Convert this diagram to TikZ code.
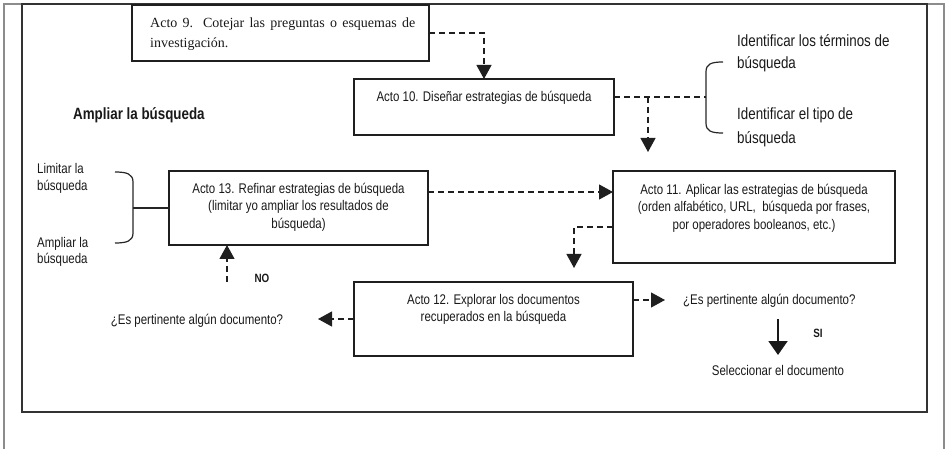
\documentclass[tikz,border=0pt]{standalone}
\usepackage{fontspec}
\setmainfont{Liberation Sans}[FakeStretch=0.82]
\newfontfamily\timesfont{Liberation Serif}
\usetikzlibrary{arrows.meta}
\newcommand\tstrut{\rule{0pt}{14pt}}
\newcommand\bstrut{\rule{0pt}{16pt}}
\begin{document}
\begin{tikzpicture}[x=1pt,y=-1pt,
  boxthick/.style={draw=black!88, line width=2.6pt, inner sep=0pt, outer sep=0pt},
  boxthin/.style={draw=black!88, line width=1.6pt, inner sep=0pt, outer sep=0pt},
  txt/.style={font=\fontsize{14}{17.5}\selectfont, inner sep=0pt, align=center, text=black!90},
  link/.style={draw=black!88, line width=1.2pt, dash pattern=on 6pt off 4pt, -{Triangle[length=14pt,width=15pt]}},
  dline/.style={draw=black!88, line width=1.2pt, dash pattern=on 6pt off 4pt},
  plainline/.style={draw=black!85, line width=1.2pt},
  siarrow/.style={draw=black!90, line width=2pt, -{Triangle[length=14pt,width=19pt]}},
  lbl/.style={font=\bfseries\fontsize{12}{14}\selectfont, inner sep=0pt, text=black!90, anchor=base}]
\useasboundingbox (0,0) rectangle (948,449);

% frames
\draw[line width=1.5pt, black!45] (4,449) -- (4,4) -- (944,4) -- (944,449);
\draw[line width=1.3pt, black!80] (22,4) rectangle (927,412);

% boxes
\node[boxthick, minimum width=297pt, minimum height=56pt] (a9) at (280.5,33) {};
\node[boxthick, minimum width=260pt, minimum height=56pt] (a10) at (484,107) {};
\node[boxthin, minimum width=282pt, minimum height=92pt] (a11) at (754,217) {};
\node[boxthick, minimum width=279pt, minimum height=74pt] (a12) at (493.5,319) {};
\node[boxthick, minimum width=259pt, minimum height=74pt] (a13) at (298.5,208) {};

% box texts
\node[anchor=north west, text width=265pt, align=justify, inner sep=0pt, text=black!90,
      font=\timesfont\fontsize{14}{20}\selectfont] (t9) at (150,18)
  {Acto 9. Cotejar las preguntas o esquemas de\linebreak investigación.};
\node[txt, anchor=base] (t10) at (484,102) {Acto 10. Diseñar estrategias de búsqueda};
\node[txt, anchor=north] (t11) at (754,180) {\tstrut Acto 11. Aplicar las estrategias de búsqueda\\(orden alfabético, URL,~ búsqueda por frases,\\por operadores booleanos, etc.)};
\node[txt, anchor=north, font=\fontsize{14}{17}\selectfont] (t12) at (493.5,290) {\tstrut Acto 12. Explorar los documentos\\recuperados en la búsqueda};
\node[txt, anchor=north] (t13) at (298.5,179) {\tstrut Acto 13. Refinar estrategias de búsqueda\\(limitar yo ampliar los resultados de\\búsqueda)};

% free texts
\node[anchor=base west, inner sep=0pt, text=black!90, font=\bfseries\fontsize{16.3}{18}\selectfont] (amp) at (73,120) {Ampliar la búsqueda};
\node[anchor=north west, inner sep=0pt, align=left, text=black!90, font=\fontsize{16.3}{22}\selectfont] (idt) at (737,30) {\bstrut Identificar los términos de\\búsqueda};
\node[anchor=north west, inner sep=0pt, align=left, text=black!90, font=\fontsize{16.3}{24}\selectfont] (idp) at (737,103) {\bstrut Identificar el tipo de\\búsqueda};
\node[anchor=north west, txt, align=left, font=\fontsize{14}{17}\selectfont] (lim) at (37,159) {\tstrut Limitar la\\búsqueda};
\node[anchor=north west, txt, align=left, font=\fontsize{14}{16.5}\selectfont] (ampl) at (37,233) {\tstrut Ampliar la\\búsqueda};
\node[txt, anchor=base] (qL) at (197,324) {¿Es pertinente algún documento?};
\node[txt, anchor=base west] (qR) at (683,305) {¿Es pertinente algún documento?};
\node[txt, anchor=base] (sel) at (778,375) {Seleccionar el documento};
\node[lbl] (no) at (262,282) {NO};
\node[lbl] (si) at (818,337) {SI};

% coordinates
\coordinate (brR) at (706,97);
\coordinate (j10) at (648,97);
\coordinate (c11) at (648,152);
\coordinate (brL) at (133,208);
\coordinate (c12) at (574,268);
\coordinate (cqL) at (318,319);
\coordinate (cqR) at (665,300);
\coordinate (cno) at (227,282);
\coordinate (si1) at (778,319);
\coordinate (si2) at (778,355);
\coordinate (o13) at ([yshift=16pt]a13.east);
\coordinate (o11) at ([yshift=-10pt]a11.west);
\coordinate (o12) at ([yshift=19pt]a12.east);

% braces
\draw[plainline] (723,62) .. controls (711,62) and (706,64) .. (706,72) -- (706,123) .. controls (706,131) and (711,133) .. (723,133);
\draw[plainline] (115,172) .. controls (127,172) and (133,174) .. (133,182) -- (133,233) .. controls (133,241) and (127,243) .. (115,243);

% connectors
\draw[link] (a9.east) -| (a10.north);
\draw[dline] (a10.east |- brR) -- (brR);
\draw[link] (j10) -- (c11);
\draw[plainline] (brL) -- (a13.west);
\draw[link] (o13) -- (o13 -| a11.west);
\draw[link] (o11) -| (c12);
\draw[link] (a12.west) -- (cqL);
\draw[link] (o12) -- (cqR);
\draw[link] (cno) -- (cno |- a13.south);
\draw[siarrow] (si1) -- (si2);
\end{tikzpicture}
\end{document}
